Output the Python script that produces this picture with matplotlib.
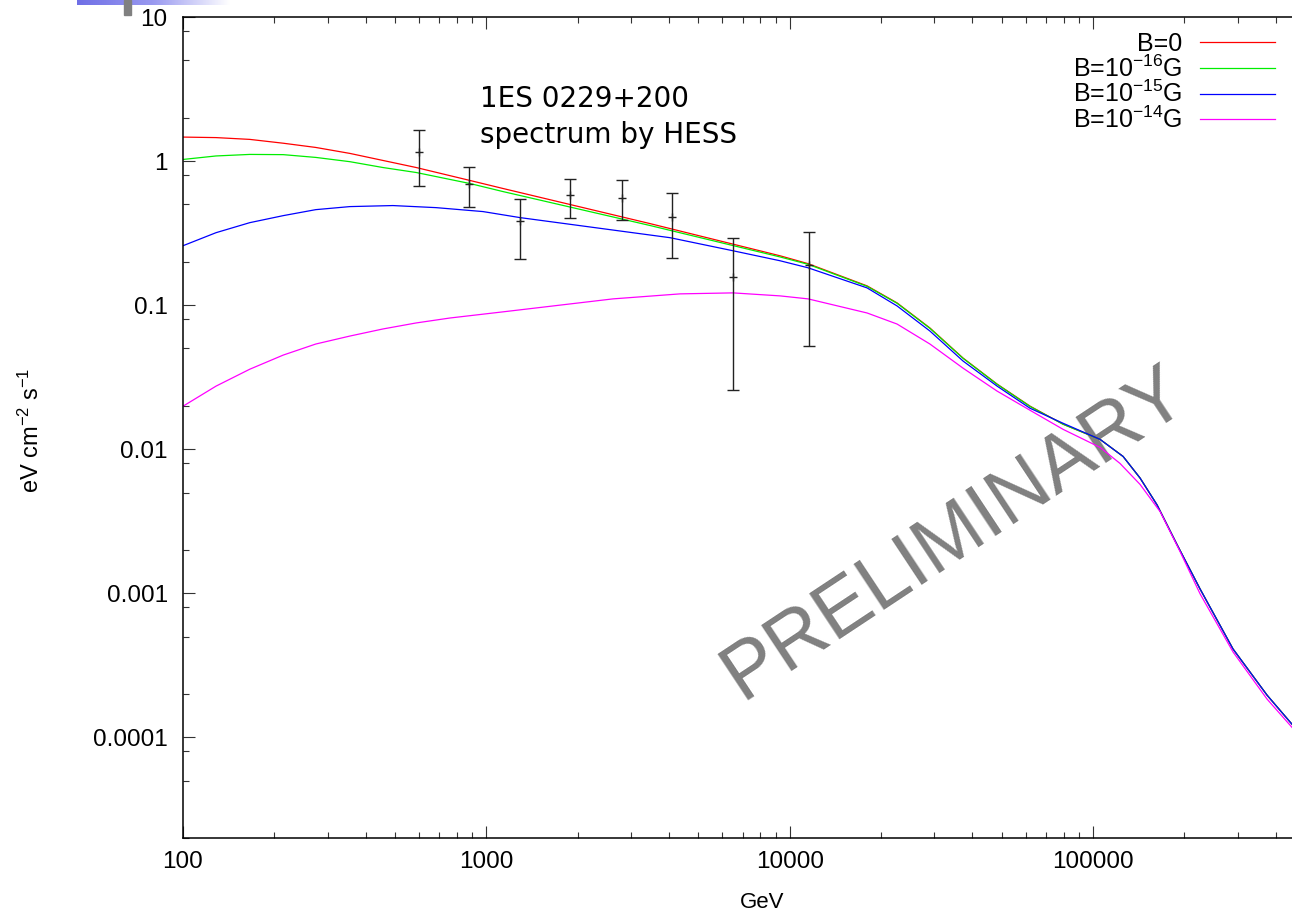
import numpy as np
import matplotlib
matplotlib.use('Agg')
import matplotlib.pyplot as plt
from matplotlib.ticker import LogLocator, NullFormatter, FixedLocator, FixedFormatter
from matplotlib.patches import Rectangle
from matplotlib.colors import LinearSegmentedColormap

plt.rcParams['font.family'] = ['Liberation Sans', 'DejaVu Sans']
plt.rcParams['mathtext.fontset'] = 'custom'
plt.rcParams['mathtext.rm'] = 'Liberation Sans'
plt.rcParams['mathtext.it'] = 'Liberation Sans:italic'
plt.rcParams['mathtext.bf'] = 'Liberation Sans:bold'

# ---------------- data ----------------
energy_b0 = [100, 128.5, 166, 214, 274, 355, 456, 587, 884, 1135, 3465, 9298, 11500, 18000,
             22600, 29000, 37300, 48300, 62000, 79700, 105500, 125700, 143000, 162700, 189400,
             225500, 289600, 375000, 453400]
flux_b0 = [1.467, 1.455, 1.414, 1.33, 1.243, 1.13, 1.01, 0.902, 0.733, 0.645, 0.368, 0.220,
           0.194, 0.136, 0.1036, 0.0694, 0.0429, 0.0283, 0.0199, 0.0149, 0.0117, 0.0089,
           0.0063, 0.0041, 0.00217, 0.00107, 0.00041, 0.000196, 0.000123]

energy_b16 = [100, 128.5, 166, 214, 274, 355, 456, 587, 884, 1135, 3465, 9298, 11500, 18000,
              22600, 29000, 37300, 48300, 62000, 79700, 105500, 125700, 143000, 162700, 189400,
              225500, 289600, 375000, 453400]
flux_b16 = [1.026, 1.085, 1.112, 1.108, 1.06, 0.99, 0.902, 0.833, 0.698, 0.614, 0.357, 0.216,
            0.192, 0.135, 0.1030, 0.0690, 0.0427, 0.0282, 0.0198, 0.0149, 0.0117, 0.0089,
            0.0063, 0.0041, 0.00217, 0.00107, 0.00041, 0.000196, 0.000123]

energy_b15 = [100, 128.5, 166, 214, 274, 355, 492, 683, 975, 1292, 4034, 6506, 9298, 11500,
              18000, 22600, 29000, 37300, 48300, 62000, 79700, 105500, 125700, 143000, 162700,
              189400, 225500, 289600, 375000, 453400]
flux_b15 = [0.2584, 0.3183, 0.3736, 0.418, 0.460, 0.483, 0.491, 0.475, 0.446, 0.405, 0.2938,
            0.2384, 0.2032, 0.1816, 0.1317, 0.0987, 0.0661, 0.0409, 0.0274, 0.01924, 0.01513,
            0.0117, 0.0089, 0.0063, 0.0041, 0.00217, 0.00107, 0.00041, 0.000196, 0.000123]

energy_b14 = [100, 128.5, 166, 214, 274, 355, 456, 587, 759, 1135, 2617, 4353, 6506, 9298,
              11500, 18000, 22600, 29000, 37300, 48300, 62000, 79700, 105500, 122800, 143000,
              166400, 193800, 225500, 289600, 375000, 453400]
flux_b14 = [0.01987, 0.0274, 0.0359, 0.045, 0.0537, 0.061, 0.0683, 0.0752, 0.0814, 0.0898,
            0.1105, 0.1197, 0.1216, 0.1159, 0.1105, 0.0882, 0.0739, 0.0537, 0.0365, 0.0253,
            0.01863, 0.01373, 0.01029, 0.00796, 0.00569, 0.00369, 0.00194, 0.00099, 0.000391,
            0.000184, 0.000117]

hess_energy = [601, 877, 1292, 1888, 2795, 4087, 6493, 11590]
hess_flux = [1.153, 0.695, 0.386, 0.585, 0.555, 0.407, 0.158, 0.1896]
hess_hi = [1.652, 0.907, 0.546, 0.753, 0.733, 0.598, 0.2905, 0.3198]
hess_lo = [0.669, 0.483, 0.2088, 0.403, 0.390, 0.214, 0.0257, 0.052]

labels = ['B=0', r'B=10$^{-16}$G', r'B=10$^{-15}$G', r'B=10$^{-14}$G']
colors = ['#ff0000', '#00ee00', '#0000ff', '#ff00ff']

x_ticks = [100, 1000, 10000, 100000]
x_ticklabels = ['100', '1000', '10000', '100000']
y_ticks = [1e-4, 1e-3, 1e-2, 1e-1, 1, 10]
y_ticklabels = ['0.0001', '0.001', '0.01', '0.1', '1', '10']

# ---------------- figure ----------------
W, H = 1292, 914
fig = plt.figure(figsize=(W / 100, H / 100), dpi=100)
L, R, T, B = 183, 1305, 17, 838
ax = fig.add_axes([L / W, (H - B) / H, (R - L) / W, (B - T) / H])

series = [(energy_b0, flux_b0), (energy_b16, flux_b16), (energy_b15, flux_b15), (energy_b14, flux_b14)]
for (xs, ys), c, lab in zip(series, colors, labels):
    ax.plot(xs, ys, color=c, lw=0.9, label=lab)

hf = np.array(hess_flux)
yerr = np.vstack([hf - np.array(hess_lo), np.array(hess_hi) - hf])
ax.errorbar(hess_energy, hess_flux, yerr=yerr, fmt='+', color='#222222', ms=6, mew=1.0,
            elinewidth=1.0, capsize=4.3, capthick=1.0, zorder=5)

ax.set_xscale('log')
ax.set_yscale('log')
ax.set_xlim(100, 5e5)
ax.set_ylim(2e-5, 10)

ax.xaxis.set_major_locator(FixedLocator(x_ticks))
ax.xaxis.set_major_formatter(FixedFormatter(x_ticklabels))
ax.xaxis.set_minor_locator(LogLocator(base=10, subs=(2, 3, 4, 5, 6, 7, 8, 9), numticks=20))
ax.xaxis.set_minor_formatter(NullFormatter())
ax.yaxis.set_major_locator(FixedLocator(y_ticks))
ax.yaxis.set_major_formatter(FixedFormatter(y_ticklabels))
ax.yaxis.set_minor_locator(LogLocator(base=10, subs=(2, 5, 8), numticks=20))
ax.yaxis.set_minor_formatter(NullFormatter())

ax.tick_params(which='both', direction='in', top=True, right=True, width=0.8, color='#333333')
ax.tick_params(which='major', length=8.6, labelsize=17.5)
ax.tick_params(which='minor', length=4.3)
ax.tick_params(axis='x', which='major', pad=9)
ax.tick_params(axis='y', which='major', pad=11)
for sp in ax.spines.values():
    sp.set_linewidth(1.1)

ax.set_xlabel('GeV', fontsize=16)
ax.set_ylabel(r'eV cm$^{-2}$ s$^{-1}$', fontsize=17)
ax.xaxis.set_label_coords((762 - L) / (R - L), -(892 - B) / (B - T))
ax.yaxis.set_label_coords(-(183 - 44) / (R - L), (B - 430) / (B - T))

ax.text((480 - L) / (R - L), (B - 106.7) / (B - T), '1ES 0229+200', transform=ax.transAxes,
        fontsize=20, family=['DejaVu Sans'], va='baseline', ha='left')
ax.text((480 - L) / (R - L), (B - 143.3) / (B - T), 'spectrum by HESS', transform=ax.transAxes,
        fontsize=20, family=['DejaVu Sans'], va='baseline', ha='left')

ax.text((955 - L) / (R - L), (B - 534) / (B - T), 'PRELIMINARY', transform=ax.transAxes,
        fontsize=57.5, color='#808080', rotation=33.5, ha='center', va='center',
        rotation_mode='anchor', zorder=0)

leg = ax.legend(loc='upper right', bbox_to_anchor=((1275 - L) / (R - L), (B - 32) / (B - T)),
                frameon=False, markerfirst=False, fontsize=18, handlelength=3.0,
                handletextpad=0.7, labelspacing=-0.03, borderpad=0, borderaxespad=0)

# decoration at top-left corner
gax = fig.add_axes([77 / W, 1 - 5 / H, (230 - 77) / W, 5 / H])
cmap = LinearSegmentedColormap.from_list('g', ['#6f6fe6', '#9a9af0', '#ffffff'])
gax.imshow(np.linspace(0, 1, 256)[None, :], aspect='auto', cmap=cmap)
gax.axis('off')
fig.patches.append(Rectangle((124 / W, 1 - 15 / H), 7 / W, 15 / H, transform=fig.transFigure,
                             color='#808080', zorder=10))

fig.savefig('out.png', dpi=100)
